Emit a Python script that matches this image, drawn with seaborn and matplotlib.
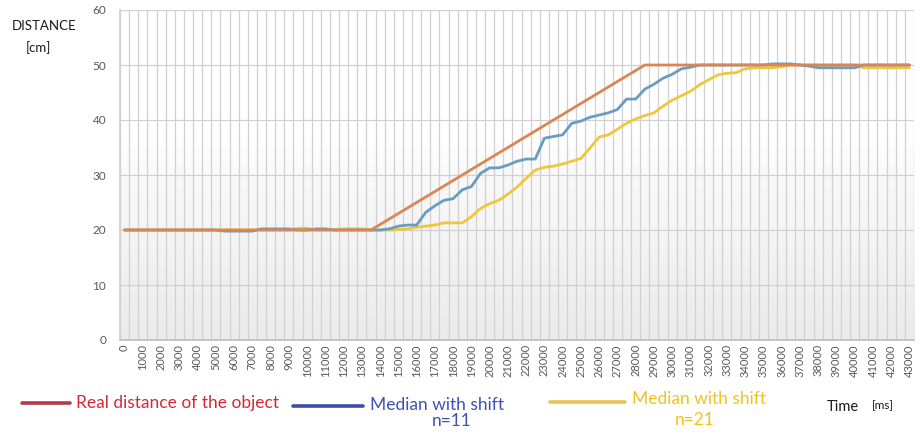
import numpy as np
import pandas as pd
import matplotlib
matplotlib.use("Agg")
import matplotlib.pyplot as plt
from matplotlib.lines import Line2D
import seaborn as sns

# ---- data (time in ms, distance in cm) ----
time_ms = list(range(0, 43001, 500))

real_distance = ([20.0] * 28 + [float(v) for v in range(21, 51)] + [50.0] * 29)

median_n11 = [
    20, 20, 20, 20, 20, 20, 20, 20, 20, 20, 20,          # 0-10
    19.8, 19.8, 19.8, 19.8,                               # 11-14
    20.2, 20.2, 20.2, 20.2,                               # 15-18
    20, 20, 20.2, 20.2, 20, 20, 20, 20, 20, 20,           # 19-28
    20.2, 20.7, 20.9, 20.9, 23.2, 24.4, 25.4, 25.7, 27.3, 27.9,   # 29-38
    30.3, 31.3, 31.3, 31.8, 32.5, 32.9, 32.9, 36.7, 37.0, 37.3,   # 39-48
    39.4, 39.8, 40.5, 40.9, 41.3, 41.9, 43.8, 43.8, 45.6, 46.5,   # 49-58
    47.6, 48.3, 49.3, 49.6, 50, 50, 50, 50, 50, 50,               # 59-68
    50, 50, 50.2, 50.2, 50.2, 50, 49.8, 49.5, 49.5, 49.5,         # 69-78
    49.5, 49.5, 50, 50, 50, 50, 50, 50,                           # 79-86
]

median_n21 = [
    20, 20, 20, 20, 20, 20, 20, 20, 20, 20,               # 0-9
    20, 20, 20, 20, 20, 20, 20, 20, 20,                   # 10-18
    20.3, 20.3, 20, 20, 20, 20.2, 20.2, 20.2, 20, 20,     # 19-28
    20, 20.1, 20.2, 20.5, 20.7, 20.9, 21.3, 21.3, 21.3, 22.4,     # 29-38
    23.9, 24.8, 25.4, 26.5, 27.8, 29.4, 30.9, 31.4, 31.6, 32.0,   # 39-48
    32.5, 33.0, 34.9, 36.9, 37.3, 38.3, 39.4, 40.2, 40.8, 41.3,   # 49-58
    42.5, 43.6, 44.4, 45.2, 46.4, 47.3, 48.2, 48.5, 48.6, 49.3,   # 59-68
    49.5, 49.5, 49.5, 49.7, 50, 50, 50, 50, 50, 50,               # 69-78
    50, 50, 49.5, 49.5, 49.5, 49.5, 49.5, 49.5,                   # 79-86
]

y_ticks = [0, 10, 20, 30, 40, 50, 60]
x_tick_labels = [str(t) for t in range(0, 43001, 1000)]

legend_real = "Real distance of the object"
legend_n11 = ("Median with shift", "n=11")
legend_n21 = ("Median with shift", "n=21")

df = pd.DataFrame({
    "time": time_ms,
    "real": real_distance,
    "n11": median_n11,
    "n21": median_n21,
})

# ---- style ----
sns.set_theme(style="white")
plt.rcParams["font.family"] = ["Lato", "DejaVu Sans"]

c_orange = "#DA8654"
c_blue = "#6A9CC0"
c_yellow = "#EEC83A"
grid_c = "#D0D0D0"
tick_c = "#595959"

fig = plt.figure(figsize=(9.21, 4.43), dpi=100)
ax = fig.add_axes([120 / 921, 1 - 340 / 443, (914 - 120) / 921, (340 - 10) / 443])

xmin, xmax = -250, 43250
# background gradient (white at top to light grey at bottom)
grad = np.linspace(0, 1, 256).reshape(-1, 1)
cmap = matplotlib.colors.LinearSegmentedColormap.from_list(
    "bg", [(0.0, "#EBEBEB"), (0.5, "#F9F9F9"), (0.62, "#FFFFFF"), (1.0, "#FFFFFF")])
ax.imshow(grad, extent=[xmin, xmax, 0, 60], origin="lower", aspect="auto",
          cmap=cmap, zorder=0)

lw = 2.0
sns.lineplot(data=df, x="time", y="n21", ax=ax, color=c_yellow, linewidth=lw, zorder=3)
sns.lineplot(data=df, x="time", y="n11", ax=ax, color=c_blue, linewidth=lw, zorder=4)
sns.lineplot(data=df, x="time", y="real", ax=ax, color=c_orange, linewidth=lw, zorder=5)

ax.set_xlim(xmin, xmax)
ax.set_ylim(0, 60)
ax.set_xlabel("")
ax.set_ylabel("")

ax.set_yticks(y_ticks)
ax.set_yticklabels([str(v) for v in y_ticks], color=tick_c, fontsize=8.5)
ax.set_xticks(list(range(0, 43001, 1000)))
ax.set_xticklabels(x_tick_labels, rotation=90, color=tick_c, fontsize=8)
ax.set_xticks(np.arange(xmin, xmax + 1, 500), minor=True)
ax.tick_params(axis="both", which="both", length=0, pad=3)
ax.tick_params(axis="y", pad=10)

ax.grid(False)
ax.yaxis.grid(True, color=grid_c, linewidth=0.9, zorder=1)
ax.xaxis.grid(True, which="minor", color=grid_c, linewidth=0.9, zorder=1)
for s in ["top", "right"]:
    ax.spines[s].set_visible(False)
ax.spines["left"].set_color(grid_c)
ax.spines["bottom"].set_color("#BFBFBF")

# ---- axis titles ----
fig.text(44 / 921, 1 - 26 / 443, "DISTANCE", ha="center", va="center", fontsize=9.5, color="#1a1a1a")
fig.text(38 / 921, 1 - 48 / 443, "[cm]", ha="center", va="center", fontsize=9.5, color="#1a1a1a")

fig.text(827 / 921, 1 - 407 / 443, "Time", ha="left", va="center", fontsize=10.5, color="#1a1a1a")
fig.text(872 / 921, 1 - 406 / 443, "[ms]", ha="left", va="center", fontsize=8.5, color="#1a1a1a")

# ---- hand-made legend ----
def legend_line(x0, x1, y, color):
    fig.add_artist(Line2D([x0 / 921, x1 / 921], [1 - y / 443, 1 - y / 443],
                          color=color, linewidth=2.6, transform=fig.transFigure))

legend_line(22, 70, 403, "#B23A48")
fig.text(76 / 921, 1 - 403 / 443, legend_real, ha="left", va="center", fontsize=12.5, color="#D42A34")

legend_line(293, 363, 406, "#3B4DA8")
fig.text(437 / 921, 1 - 405 / 443, legend_n11[0], ha="center", va="center", fontsize=12.5, color="#3F51B5")
fig.text(452 / 921, 1 - 421 / 443, legend_n11[1], ha="center", va="center", fontsize=12.5, color="#3F51B5")

legend_line(550, 625, 402, "#E5C550")
fig.text(699 / 921, 1 - 399 / 443, legend_n21[0], ha="center", va="center", fontsize=12.5, color="#F2C21B")
fig.text(695 / 921, 1 - 420 / 443, legend_n21[1], ha="center", va="center", fontsize=12.5, color="#F2C21B")

fig.savefig("out.png", dpi=100)
